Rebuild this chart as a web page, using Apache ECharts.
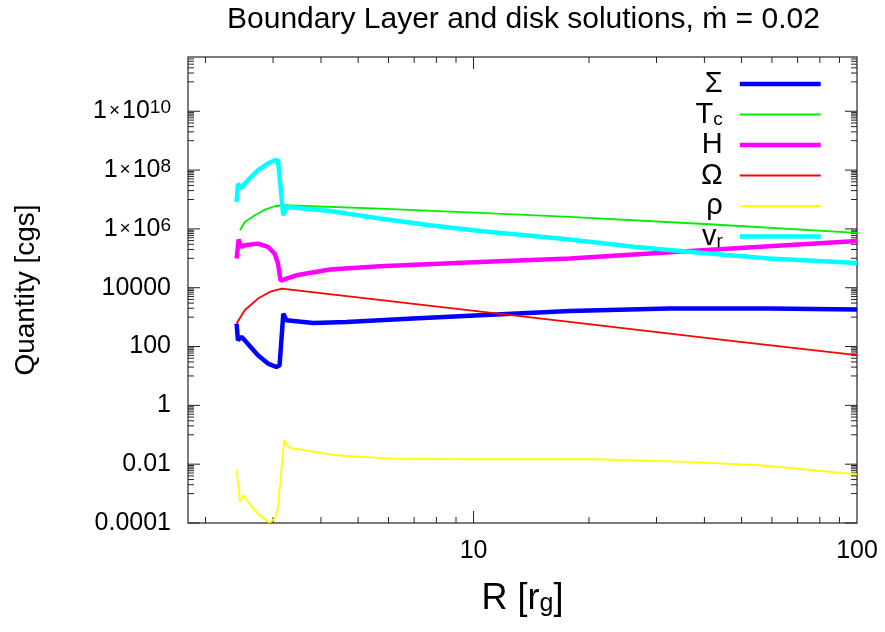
<!DOCTYPE html>
<html>
<head>
<meta charset="utf-8">
<script src="https://cdn.jsdelivr.net/npm/echarts@6/dist/echarts.min.js"></script>
<style>
html, body { margin: 0; padding: 0; background: #fff; }
#chart { width: 885px; height: 632px; }
</style>
</head>
<body>
<div id="chart"></div>
<script>
// values, R in r_g
var sigmaR = [2.41, 2.43, 2.48, 2.53, 2.74, 2.91, 3.06, 3.12, 3.19, 3.25, 3.82, 4.66, 6.95, 10.4, 17.8, 32.4, 59.0, 100];
var sigmaVal = [604, 164, 212, 164, 50.6, 26.4, 20.2, 23.1, 1321, 783, 634, 686, 893, 1158, 1623, 1955, 1955, 1807];

var tcR = [2.46, 2.53, 2.69, 2.86, 3.03, 3.19, 5.69, 10.4, 17.8, 41.2, 100];
var tcVal = [9.0e5, 1.72e6, 2.91e6, 4.55e6, 5.89e6, 6.37e6, 4.92e6, 3.49e6, 2.55e6, 1.44e6, 7.28e5];

var hR = [2.41, 2.44, 2.48, 2.53, 2.74, 2.91, 3.03, 3.09, 3.14, 3.45, 4.22, 5.69, 10.4, 17.8, 39.5, 100];
var hVal = [9.8e4, 4.35e5, 2.43e5, 2.78e5, 3.16e5, 2.43e5, 1.45e5, 6.64e4, 1.75e4, 2.65e4, 4.14e4, 5.37e4, 7.52e4, 9.82e4, 1.88e5, 3.89e5];

var omegaR = [2.41, 2.53, 2.74, 2.94, 3.16, 17.8, 48.3, 100];
var omegaVal = [604, 1714, 4275, 7180, 9350, 686, 150, 51];

var rhoR = [2.41, 2.46, 2.51, 2.64, 2.80, 2.94, 3.03, 3.09, 3.16, 3.21, 3.30, 4.36, 6.08, 9.48, 20.6, 35.9, 55.8, 100];
var rhoVal = [6.2e-3, 5.2e-4, 8.8e-4, 3.5e-4, 1.6e-4, 1.05e-4, 1.4e-4, 3.5e-4, 8.1e-3, 0.065, 0.0367, 0.0201, 0.0155, 0.0147, 0.0147, 0.0119, 0.0092, 0.0045];

var vrR = [2.41, 2.43, 2.48, 2.51, 2.58, 2.74, 2.91, 3.03, 3.09, 3.19, 3.25, 4.22, 5.69, 7.68, 10.4, 17.8, 26.5, 39.5, 59.0, 100];
var vrVal = [8.24e6, 3.48e7, 2.36e7, 3.05e7, 4.5e7, 9.9e7, 1.67e8, 2.16e8, 2.16e8, 2.91e6, 5.57e6, 4.07e6, 2.25e6, 1.33e6, 8.51e5, 4.35e5, 2.43e5, 1.52e5, 9.82e4, 6.95e4];

// axis ticks and labels
var xMajorTicks = [10];
var xMinorTicks = [2, 3, 4, 5, 6, 7, 8, 9, 20, 30, 40, 50, 60, 70, 80, 90];
var xTickLabels = ['10', '100'];
var xLabelValues = [10, 100];
var yMajorTicks = [1e-4, 1e-2, 1, 1e2, 1e4, 1e6, 1e8, 1e10];
var yTickLabels = ['0.0001', '0.01', '1', '100', '10000', '1{x|×}10{sup|6}', '1{x|×}10{sup|8}', '1{x|×}10{sup|10}'];
var yMinorTicks = [];
// gnuplot style minor tics: 1..9 x 10^odd between labelled decades
[-3, -1, 1, 3, 5, 7, 9, 11].forEach(function (e) {
    for (var k = 1; k <= 9; k++) {
        var v = k * Math.pow(10, e);
        if (v < 7e11) yMinorTicks.push(v);
    }
});

var FONT = '"Liberation Sans", Arial, sans-serif';

function pairs(xs, ys) {
    return xs.map(function (x, i) { return [x, ys[i]]; });
}

var tickData = [];
xMajorTicks.forEach(function (v) { tickData.push([v, 1, 0, 1]); });
xMinorTicks.forEach(function (v) { tickData.push([v, 1, 0, 0]); });
yMajorTicks.forEach(function (v) { tickData.push([2, v, 1, 1]); });
yMinorTicks.forEach(function (v) { tickData.push([2, v, 1, 0]); });

function renderTick(params, api) {
    var cs = params.coordSys;
    var len = api.value(3) ? 12 : 6;
    var segs = [];
    if (api.value(2) === 0) {
        var px = api.coord([api.value(0), 1])[0];
        segs.push([px, cs.y + cs.height, px, cs.y + cs.height - len]);
        segs.push([px, cs.y, px, cs.y + len]);
    } else {
        var py = api.coord([2, api.value(1)])[1];
        segs.push([cs.x, py, cs.x + len, py]);
        segs.push([cs.x + cs.width, py, cs.x + cs.width - len, py]);
    }
    return {
        type: 'group',
        children: segs.map(function (s) {
            return { type: 'line', shape: { x1: s[0], y1: s[1], x2: s[2], y2: s[3] },
                     style: { stroke: '#222', lineWidth: 1 } };
        })
    };
}

function findLabel(v, vals, labels) {
    for (var i = 0; i < vals.length; i++) {
        if (Math.abs(Math.log10(v) - Math.log10(vals[i])) < 1e-6) return labels[i];
    }
    return '';
}

var legendText = {
    'Σ': 'Σ',
    'Tc': 'T{sub|c}',
    'H': 'H',
    'Ω': 'Ω',
    'ρ': 'ρ',
    'vr': 'v{sub|r}'
};

function lineSeries(name, data, color, width) {
    return {
        name: name, type: 'line', data: data, symbol: 'none', smooth: false,
        lineStyle: { color: color, width: width }, itemStyle: { color: color },
        z: 3
    };
}

var chart = echarts.init(document.getElementById('chart'));
chart.setOption({
    animation: false,
    backgroundColor: '#fff',
    title: {
        text: 'Boundary Layer and disk solutions, ṁ = 0.02',
        left: 222, top: 0,
        textStyle: { fontFamily: FONT, fontSize: 30, fontWeight: 'normal', color: '#000' }
    },
    grid: {
        left: 188, right: 28, top: 57, bottom: 109,
        show: true, borderColor: '#505050', borderWidth: 1.5,
        containLabel: false, outerBoundsMode: 'none'
    },
    legend: {
        orient: 'vertical', right: 62, top: 69, align: 'right', padding: 0,
        itemWidth: 81, itemHeight: 14, itemGap: 0.5,
        data: ['Σ', 'Tc', 'H', 'Ω', 'ρ', 'vr'],
        itemStyle: { color: 'rgba(0,0,0,0)', borderWidth: 0, opacity: 0 },
        lineStyle: { width: 'inherit' },
        formatter: function (name) { return legendText[name]; },
        textStyle: {
            fontFamily: FONT, fontSize: 29, color: '#000', lineHeight: 30, padding: [0, 12, 0, 0],
            rich: { sub: { fontFamily: FONT, fontSize: 19, lineHeight: 6, verticalAlign: 'bottom', color: '#000' } }
        }
    },
    xAxis: {
        type: 'log', logBase: 10, min: 1.8, max: 100,
        axisLine: { show: false }, axisTick: { show: false }, splitLine: { show: false },
        axisLabel: {
            fontFamily: FONT, fontSize: 25, color: '#000', margin: 16,
            showMinLabel: false,
            formatter: function (v) { return findLabel(v, xLabelValues, xTickLabels); }
        },
        name: 'R [r{sub|g}]', nameLocation: 'middle', nameGap: 58,
        nameTextStyle: {
            fontFamily: FONT, fontSize: 36, color: '#000',
            rich: { sub: { fontFamily: FONT, fontSize: 25, lineHeight: 8, verticalAlign: 'bottom', color: '#000' } }
        }
    },
    yAxis: {
        type: 'log', logBase: 10, min: 1e-4, max: 7e11, interval: 2,
        axisLine: { show: false }, axisTick: { show: false }, splitLine: { show: false },
        axisLabel: {
            fontFamily: FONT, fontSize: 25, color: '#000', margin: 17, lineHeight: 26,
            showMaxLabel: false,
            formatter: function (v) { return findLabel(v, yMajorTicks, yTickLabels); },
            rich: {
                sup: { fontFamily: FONT, fontSize: 19, lineHeight: 8, verticalAlign: 'top', color: '#000' },
                x: { fontFamily: FONT, fontSize: 19, color: '#000', padding: [0, 2, 0, 2] }
            }
        },
        name: 'Quantity [cgs]', nameLocation: 'middle', nameGap: 148, nameRotate: 90,
        nameTextStyle: { fontFamily: FONT, fontSize: 28, color: '#000' }
    },
    series: [
        lineSeries('Σ', pairs(sigmaR, sigmaVal), '#0000ff', 4.5),
        lineSeries('Tc', pairs(tcR, tcVal), '#00ee00', 1.8),
        lineSeries('H', pairs(hR, hVal), '#ff00ff', 4.5),
        lineSeries('Ω', pairs(omegaR, omegaVal), '#ff0000', 1.8),
        lineSeries('ρ', pairs(rhoR, rhoVal), '#ffff00', 1.8),
        lineSeries('vr', pairs(vrR, vrVal), '#00ffff', 4.5),
        {
            name: 'ticks', type: 'custom', renderItem: renderTick, data: tickData,
            clip: false, silent: true, z: 2
        }
    ]
});
</script>
</body>
</html>
